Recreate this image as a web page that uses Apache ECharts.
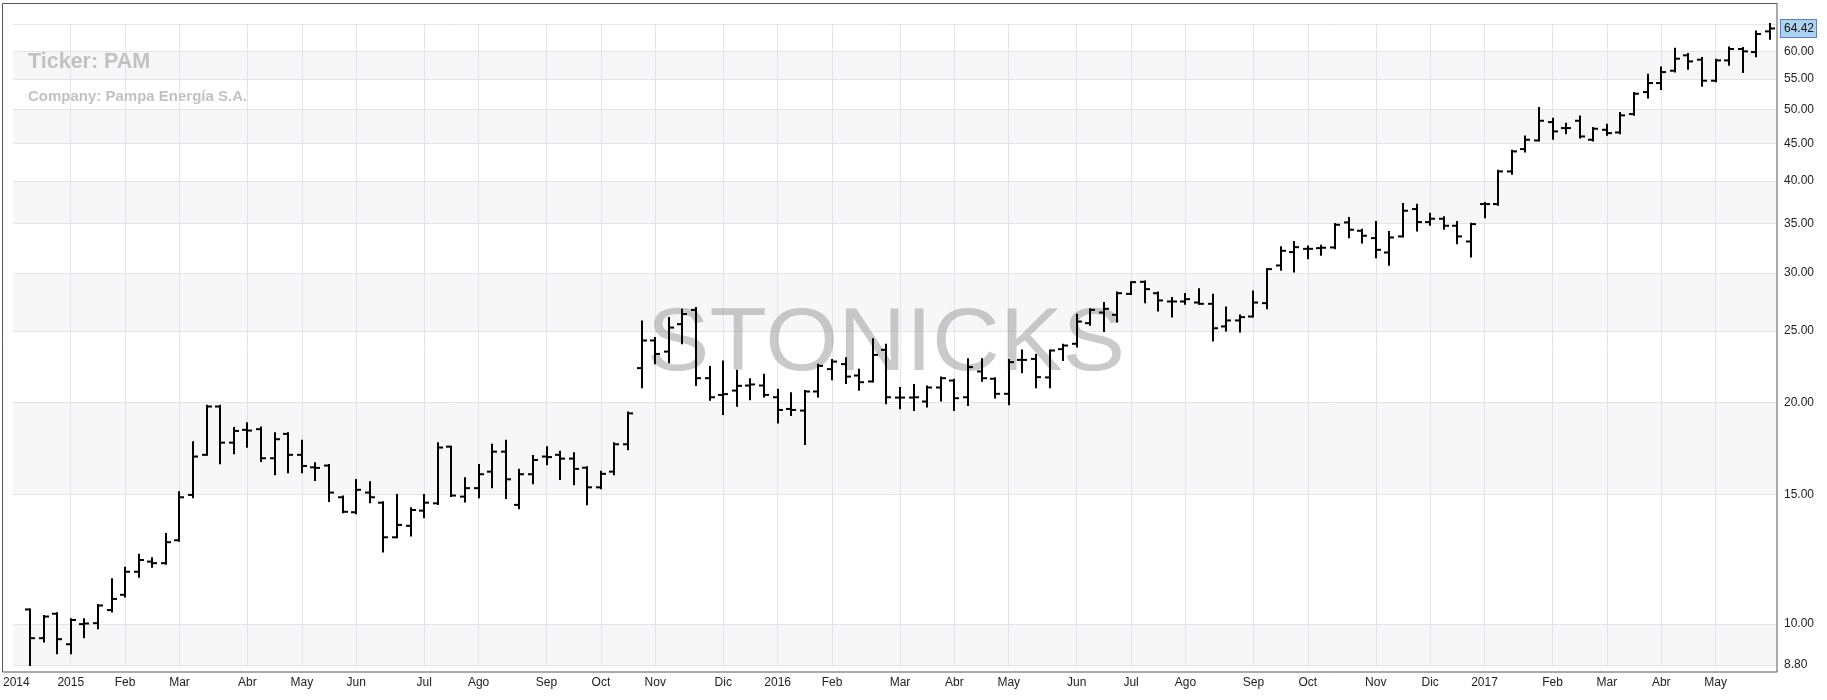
<!DOCTYPE html>
<html>
<head>
<meta charset="utf-8">
<script src="https://cdn.jsdelivr.net/npm/echarts@6/dist/echarts.min.js"></script>
<style>
html,body{margin:0;padding:0;background:#fff;}
#chart{width:1827px;height:700px;}
</style>
</head>
<body>
<div id="chart"></div>
<script>
// Weekly categories (Monday of each week)
const weeks = [
 '2014-12-08','2014-12-15','2014-12-22','2014-12-29',
 '2015-01-05','2015-01-12','2015-01-19','2015-01-26','2015-02-02','2015-02-09','2015-02-16','2015-02-23',
 '2015-03-02','2015-03-09','2015-03-16','2015-03-23','2015-03-30','2015-04-06','2015-04-13','2015-04-20','2015-04-27',
 '2015-05-04','2015-05-11','2015-05-18','2015-05-25','2015-06-01','2015-06-08','2015-06-15','2015-06-22','2015-06-29',
 '2015-07-06','2015-07-13','2015-07-20','2015-07-27','2015-08-03','2015-08-10','2015-08-17','2015-08-24','2015-08-31',
 '2015-09-07','2015-09-14','2015-09-21','2015-09-28','2015-10-05','2015-10-12','2015-10-19','2015-10-26',
 '2015-11-02','2015-11-09','2015-11-16','2015-11-23','2015-11-30','2015-12-07','2015-12-14','2015-12-21','2015-12-28',
 '2016-01-04','2016-01-11','2016-01-18','2016-01-25','2016-02-01','2016-02-08','2016-02-15','2016-02-22','2016-02-29',
 '2016-03-07','2016-03-14','2016-03-21','2016-03-28','2016-04-04','2016-04-11','2016-04-18','2016-04-25',
 '2016-05-02','2016-05-09','2016-05-16','2016-05-23','2016-05-30','2016-06-06','2016-06-13','2016-06-20','2016-06-27',
 '2016-07-04','2016-07-11','2016-07-18','2016-07-25','2016-08-01','2016-08-08','2016-08-15','2016-08-22','2016-08-29',
 '2016-09-05','2016-09-12','2016-09-19','2016-09-26','2016-10-03','2016-10-10','2016-10-17','2016-10-24','2016-10-31',
 '2016-11-07','2016-11-14','2016-11-21','2016-11-28','2016-12-05','2016-12-12','2016-12-19','2016-12-26',
 '2017-01-02','2017-01-09','2017-01-16','2017-01-23','2017-01-30','2017-02-06','2017-02-13','2017-02-20','2017-02-27',
 '2017-03-06','2017-03-13','2017-03-20','2017-03-27','2017-04-03','2017-04-10','2017-04-17','2017-04-24',
 '2017-05-01','2017-05-08','2017-05-15','2017-05-22','2017-05-29'
];

const open = [null,
 10.47, 9.57,10.33, 9.39,10.00,10.03,10.45,10.96,11.78,12.16,
 12.10,13.00,14.98,16.98,19.75,17.64,18.36,18.40,16.80,18.13,
 16.98,16.33,16.42,14.87,14.19,15.09,14.62,13.12,13.60,14.26,
 14.59,17.42,14.90,15.30,16.11,17.15,14.52,15.98,16.89,16.98,
 16.78,16.31,15.34,16.11,17.55,22.27,24.28,23.45,25.55,26.72,
 21.58,20.48,20.76,21.09,21.09,20.33,19.60,19.50,20.70,22.20,
 22.55,21.76,21.36,23.58,20.31,20.31,20.06,20.96,21.42,20.33,
 22.04,21.54,20.55,22.85,22.92,21.63,23.63,24.03,25.63,26.50,
 26.31,28.09,29.17,28.15,27.43,27.43,27.34,27.23,25.37,25.85,
 26.17,27.29,30.70,32.01,32.34,32.41,32.48,35.12,34.22,33.44,
 31.97,33.62,36.62,35.16,35.53,34.76,33.09,37.20,37.20,41.20,
 44.18,45.39,48.07,47.18,48.27,45.49,46.93,46.54,49.29,52.80,
 54.31,56.45,59.23,58.43,54.71,58.30,60.41,59.84,63.84
];
const high = [null,
 10.47,10.26,10.35,10.15,10.15,10.62,11.51,11.93,12.42,12.29,
 13.26,15.11,17.66,19.79,19.79,18.46,18.75,18.49,18.17,18.17,
 17.75,16.54,16.45,14.90,15.70,15.59,14.64,14.98,14.37,14.98,
 17.61,17.42,15.78,16.45,17.52,17.75,16.20,16.92,17.39,17.15,
 17.07,16.33,16.11,17.61,19.38,25.76,24.46,26.04,26.72,26.87,
 22.34,22.73,22.08,21.51,21.81,20.81,20.59,20.74,22.50,22.85,
 22.97,22.15,24.38,23.95,20.92,21.13,21.02,21.63,21.47,22.90,
 22.90,21.58,22.85,23.53,23.21,23.53,23.95,26.31,26.78,27.29,
 28.21,29.14,29.20,28.21,27.72,28.07,28.51,28.01,26.92,26.25,
 28.30,30.35,32.51,33.03,32.58,32.65,34.94,35.60,34.33,35.16,
 34.08,37.20,37.12,36.09,35.71,35.16,34.98,37.31,41.28,43.95,
 45.96,50.23,48.58,47.82,48.93,47.18,47.67,49.45,52.64,55.75,
 57.04,60.47,59.47,58.74,58.43,60.72,60.60,63.84,65.33
];
const low = [null,
 8.80, 9.47, 9.13, 9.13, 9.60, 9.87,10.40,10.90,11.60,11.97,
 12.08,12.98,14.87,16.98,16.54,17.07,17.42,16.66,15.98,16.08,
 16.08,15.70,14.70,14.19,14.14,14.64,12.55,13.12,13.19,13.97,
 14.56,14.93,14.67,14.87,15.34,14.83,14.37,15.54,16.49,15.75,
 15.49,14.55,15.30,15.98,17.28,20.98,22.62,22.69,24.08,21.13,
 20.17,19.30,19.79,20.21,20.38,18.78,19.24,17.57,20.38,21.51,
 21.25,20.81,21.36,19.95,19.65,19.54,19.75,20.12,19.54,19.85,
 21.40,20.31,19.89,21.99,20.98,20.98,22.85,23.83,25.50,25.02,
 25.76,28.07,27.37,26.67,26.17,27.23,27.23,24.28,25.05,24.98,
 26.17,26.86,30.29,30.13,31.41,31.74,32.41,33.54,32.99,31.51,
 30.77,33.62,34.25,34.87,34.43,32.92,31.58,35.71,37.12,40.90,
 43.86,45.39,45.63,46.44,45.82,45.39,46.20,46.44,49.19,51.93,
 53.30,56.33,56.80,53.86,54.60,57.52,56.21,59.04,62.39
];
const close = [null,
 9.57,10.24, 9.54,10.13,10.02,10.60,10.82,11.78,12.22,12.10,
 12.92,14.87,16.89,19.75,17.64,18.30,18.32,16.80,17.83,16.98,
 16.40,16.30,15.09,14.21,15.22,14.87,13.12,13.64,14.29,14.62,
 17.37,14.95,15.30,15.98,17.15,15.73,15.98,16.71,16.86,16.78,
 16.25,15.34,16.00,17.55,19.33,24.28,23.28,25.28,26.37,21.58,
 20.33,20.53,21.07,21.16,20.48,19.54,19.54,20.70,22.43,22.73,
 21.69,21.31,23.21,20.33,20.31,20.33,20.96,21.58,20.27,22.34,
 21.58,20.55,22.69,22.85,21.65,23.53,23.90,25.76,26.72,26.81,
 28.15,29.14,28.51,27.52,27.43,27.63,27.23,25.23,25.85,26.12,
 27.34,30.35,32.14,32.51,32.34,32.45,34.87,34.33,33.69,32.24,
 33.51,36.43,35.16,35.53,34.76,33.62,34.94,37.20,41.20,43.86,
 45.49,48.27,46.69,47.18,45.96,47.08,46.44,49.09,52.53,54.31,
 56.21,58.61,58.12,54.71,58.30,60.41,59.97,63.31,64.42
];

const priceTicks = [8.8, 10, 15, 20, 25, 30, 35, 40, 45, 50, 55, 60];
const shadedBands = [[8.8, 10], [15, 20], [25, 30], [35, 40], [45, 50], [55, 60]];
const priceMin = 8.8;
const priceMax = 65.33;
const lastClose = 64.42;
const monthNames = ['Ene','Feb','Mar','Abr','May','Jun','Jul','Ago','Sep','Oct','Nov','Dic'];
const tickerTitle = 'Ticker: PAM';
const companyTitle = 'Company: Pampa Energía S.A.';
const watermark = 'STONICKS';

// Build series data
const ohlc = [];
for (let i = 0; i < weeks.length; i++) {
  if (open[i] != null) ohlc.push([i, open[i], high[i], low[i], close[i]]);
}
// Month-start ticks
const monthTickIdx = [];
const monthTickLabel = {};
for (let i = 0; i < weeks.length; i++) {
  const y = weeks[i].slice(0, 4), m = +weeks[i].slice(5, 7);
  const pm = i > 0 ? +weeks[i - 1].slice(5, 7) : -1;
  if (m !== pm) {
    monthTickIdx.push(i);
    monthTickLabel[i] = (i === 0 || m === 1) ? y : monthNames[m - 1];
  }
}

const FONT = '"Liberation Sans", Arial, Helvetica, sans-serif';
const gridColor = '#e3e3ec';

const markLineData = [];
priceTicks.forEach(v => markLineData.push({ yAxis: v, label: { show: true, formatter: v.toFixed(2) } }));
markLineData.push({ yAxis: priceMax, label: { show: false } });
monthTickIdx.forEach(i => { if (i > 0) markLineData.push({ xAxis: i, label: { show: false } }); });
markLineData.push({
  yAxis: lastClose,
  lineStyle: { color: 'rgba(0,0,0,0)', width: 0 },
  label: {
    show: true, formatter: lastClose.toFixed(2), distance: 5,
    backgroundColor: '#acd3ef', borderColor: '#5b7fd9', borderWidth: 1,
    padding: [3, 2, 2, 3], color: '#111'
  }
});

const chart = echarts.init(document.getElementById('chart'), null, { renderer: 'canvas' });
chart.setOption({
  animation: false,
  backgroundColor: '#fff',
  grid: { left: 12, right: 51, top: 24, bottom: 35 },
  xAxis: {
    type: 'value',
    min: -0.25,
    max: weeks.length - 1 + 0.44,
    axisLine: { show: false },
    axisTick: { show: false },
    splitLine: { show: false },
    axisLabel: {
      customValues: monthTickIdx,
      formatter: v => monthTickLabel[v] || '',
      color: '#222', fontSize: 12, fontFamily: FONT, margin: 12
    }
  },
  yAxis: {
    type: 'log',
    logBase: 10,
    min: priceMin,
    max: priceMax,
    position: 'right',
    axisLine: { show: false },
    axisTick: { show: false },
    splitLine: { show: false },
    axisLabel: { show: false }
  },
  graphic: [
    {
      type: 'text', z: 1, silent: true, x: 886, y: 345, scaleX: 1.055,
      style: { text: watermark, fontSize: 89, fontFamily: FONT, fill: 'rgba(150,150,150,0.5)', align: 'center', verticalAlign: 'middle' }
    },
    {
      type: 'text', z: 1, silent: true, x: 28, y: 62,
      style: { text: tickerTitle, fontSize: 21.5, fontWeight: 'bold', fontFamily: FONT, fill: '#c2c2c2', verticalAlign: 'middle' }
    },
    {
      type: 'text', z: 1, silent: true, x: 28, y: 97,
      style: { text: companyTitle, fontSize: 15, fontWeight: 'bold', fontFamily: FONT, fill: '#c2c2c2', verticalAlign: 'middle' }
    },
    {
      type: 'rect', z: 10, silent: true,
      shape: { x: 2.5, y: 3.5, width: 1774.5, height: 668.5 },
      style: { fill: 'none', stroke: '#555', lineWidth: 1 }
    }
  ],
  series: [
    {
      type: 'line', data: [], z: 0, silent: true,
      markArea: {
        silent: true, z: 0,
        itemStyle: { color: '#f7f7f7' },
        data: shadedBands.map(b => [{ yAxis: b[0] }, { yAxis: b[1] }])
      },
      markLine: {
        silent: true, z: 0, symbol: ['none', 'none'],
        lineStyle: { color: gridColor, width: 1, type: 'solid' },
        label: { show: false, position: 'end', distance: 8, color: '#222', fontSize: 12, fontFamily: FONT },
        emphasis: { disabled: true },
        data: markLineData
      }
    },
    {
      type: 'custom',
      z: 3,
      data: ohlc,
      encode: { x: 0, y: [1, 2, 3, 4] },
      renderItem: function (params, api) {
        const i = api.value(0);
        const o = api.coord([i, api.value(1)]);
        const h = api.coord([i, api.value(2)]);
        const l = api.coord([i, api.value(3)]);
        const c = api.coord([i, api.value(4)]);
        const x = Math.round(o[0]);
        const st = { stroke: '#000', lineWidth: 2 };
        return {
          type: 'group',
          children: [
            { type: 'line', shape: { x1: x, y1: h[1] - 1, x2: x, y2: l[1] + 1 }, style: st },
            { type: 'line', shape: { x1: x - 5, y1: o[1], x2: x, y2: o[1] }, style: st },
            { type: 'line', shape: { x1: x, y1: c[1], x2: x + 5, y2: c[1] }, style: st }
          ]
        };
      }
    }
  ]
});
</script>
</body>
</html>
